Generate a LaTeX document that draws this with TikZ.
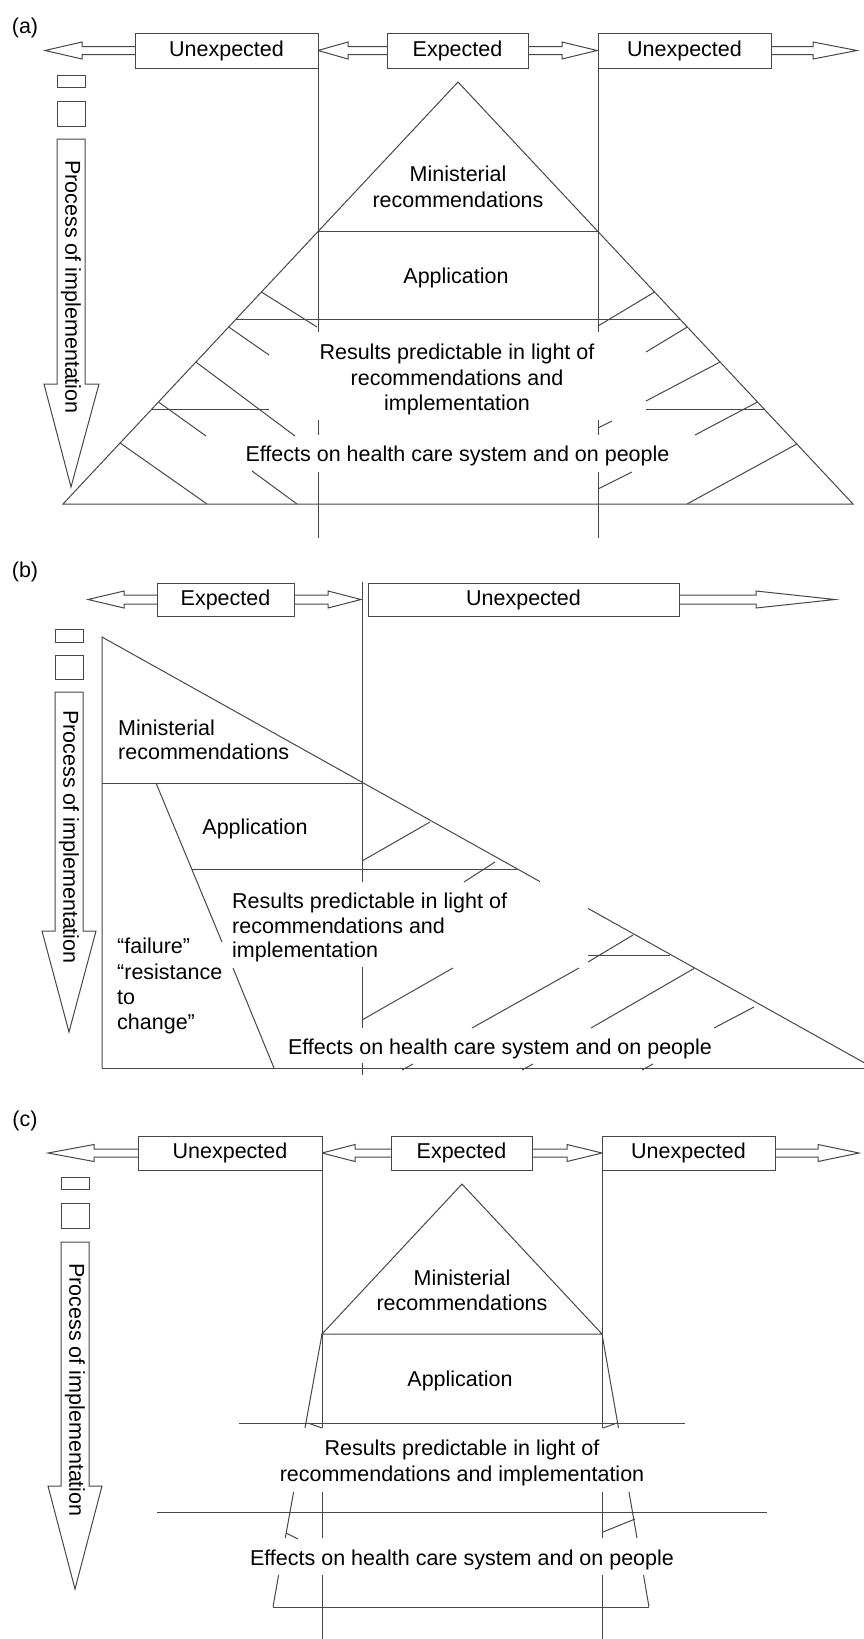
\documentclass[tikz,border=0pt]{standalone}
\usepackage{fontspec}
\setmainfont{Liberation Sans}
\newcommand\figfont{\fontsize{21.5}{25.5}\selectfont}
\begin{document}
\begin{tikzpicture}[x=1pt,y=-1pt,
  ln/.style={draw=black!72, line width=1pt},
  arr/.style={ln, line join=miter, fill=white},
  txt/.style={font=\figfont, inner sep=0pt, text=black},
  lbl/.style={txt, anchor=base},
  lblw/.style={txt, anchor=base west},
  tagbox/.style={ln, fill=white, inner sep=0pt, font=\figfont, text=black}]
\useasboundingbox (0,0) rectangle (864,1639);
\fill[white] (0,0) rectangle (864,1639);

%%%%%%%%%%%%%%%%%%%%%%%% (a)
\node[txt] (labA) at (25,28) {(a)};
\draw[arr] (135,46.5)--(82,46.5)--(82,42)--(45,50.5)--(82,59)--(82,54.5)--(135,54.5);
\draw[arr] (387,46.5)--(348,46.5)--(348,42)--(318,50.5)--(348,59)--(348,54.5)--(387,54.5);
\draw[arr] (528,46.5)--(562,46.5)--(562,42)--(597,50.5)--(562,59)--(562,54.5)--(528,54.5);
\draw[arr] (771,46.5)--(813,46.5)--(813,42)--(857,50.5)--(813,59)--(813,54.5)--(771,54.5);
\node[tagbox, minimum width=183pt, minimum height=35pt] (aU1) at (226.5,50.5) {Unexpected};
\node[tagbox, minimum width=141pt, minimum height=35pt] (aE) at (457.5,50.5) {Expected};
\node[tagbox, minimum width=173pt, minimum height=35pt] (aU2) at (684.5,50.5) {Unexpected};

\draw[ln] (57,75) rectangle (85,87);
\draw[ln] (57,101) rectangle (85,126);
\draw[arr] (57,139)--(85,139)--(85,384)--(99,384)--(71,487)--(44,384)--(57,384)--cycle;
\node[txt, rotate=-90] (aP) at (71,287) {Process of implementation};

\draw[ln] (318,68)--(318,332) (318,420)--(318,435) (318,472)--(318,538);
\draw[ln] (598,68)--(598,332) (598,420)--(598,435) (598,472)--(598,538);
\draw[ln] (63,504)--(458,82)--(853,504)--cycle;
\draw[ln] (318.5,231)--(597.5,231);
\draw[ln] (236.2,319)--(679.8,319);
% left hatches
\draw[ln] (261.4,292)--(317,327);
\draw[ln] (228.7,327)--(269,355);
\draw[ln] (195.9,362)--(295,436);
\draw[ln] (151.9,409)--(269,409);
\draw[ln] (158.5,402)--(206,436);
\draw[ln] (120.1,443)--(207,504);
\draw[ln] (252,471)--(297,504);
% right hatches
\draw[ln] (654.6,292)--(598,326);
\draw[ln] (687.3,327)--(646,352);
\draw[ln] (720,362)--(646,401);
\draw[ln] (646,409)--(764,409);
\draw[ln] (757.5,402)--(695,435);
\draw[ln] (796.8,444)--(687,504);
\draw[ln] (612,421)--(598,428);
\draw[ln] (632,472)--(598,489);

\node[lbl] (aM1) at (458,181.5) {Ministerial};
\node[lbl] (aM2) at (458,207.5) {recommendations};
\node[lbl] (aAp) at (456,283.5) {Application};
\node[lbl] (aR1) at (457,359.5) {Results predictable in light of};
\node[lbl] (aR2) at (457,385) {recommendations and};
\node[lbl] (aR3) at (457,410.5) {implementation};
\node[lbl] (aEf) at (457.5,461) {Effects on health care system and on people};

%%%%%%%%%%%%%%%%%%%%%%%% (b)
\node[txt] (labB) at (25,572) {(b)};
\draw[arr] (157,595)--(124,595)--(124,591)--(88,599.5)--(124,608)--(124,604)--(157,604);
\draw[arr] (294,595)--(328,595)--(328,591)--(361,599.5)--(328,608)--(328,604)--(294,604);
\draw[arr] (679,595)--(756,595)--(756,591)--(835,599.5)--(756,608)--(756,604)--(679,604);
\node[tagbox, minimum width=137pt, minimum height=33pt] (bE) at (225.5,599.5) {Expected};
\node[tagbox, minimum width=311pt, minimum height=33pt] (bU) at (523.5,599.5) {Unexpected};

\draw[ln] (55,629) rectangle (83,642);
\draw[ln] (55,655) rectangle (83,679);
\draw[arr] (55,692)--(83,692)--(83,931)--(96,931)--(69,1032)--(42,931)--(55,931)--cycle;
\node[txt, rotate=-90] (bP) at (69,837) {Process of implementation};

\draw[ln] (362,582)--(362,882) (362,967)--(362,1028) (362,1063)--(362,1075);
\draw[ln] (102,1068)--(102,637)--(540,881.6);
\draw[ln] (588,908.4)--(864,1062.6);
\draw[ln] (102,1068)--(864,1068);
\draw[ln] (102,783)--(362,783);
\draw[ln] (156,783)--(222,942);
\draw[ln] (233,968)--(274,1068);
\draw[ln] (192,869)--(517,869);
% hatches
\draw[ln] (362,861)--(430,822);
\draw[ln] (464,882)--(495,862);
\draw[ln] (362,1020)--(453,968);
\draw[ln] (588,962)--(633,935);
\draw[ln] (588,955)--(670,955);
\draw[ln] (472,1028)--(579,968);
\draw[ln] (591,1028)--(694,968.5);
\draw[ln] (714,1028)--(754,1007);
\draw[ln] (402,1070)--(413,1064);
\draw[ln] (522,1070)--(533,1064);
\draw[ln] (642,1070)--(653,1064);

\node[lblw] (bM1) at (118,735) {Ministerial};
\node[lblw] (bM2) at (118,759.5) {recommendations};
\node[lbl] (bAp) at (255,834.5) {Application};
\node[lblw] (bR1) at (232,908) {Results predictable in light of};
\node[lblw] (bR2) at (232,933) {recommendations and};
\node[lblw] (bR3) at (232,957.5) {implementation};
\node[lblw] (bF1) at (117,953.5) {“failure”};
\node[lblw] (bF2) at (117,979) {“resistance};
\node[lblw] (bF3) at (117,1004) {to};
\node[lblw] (bF4) at (117,1029.5) {change”};
\node[lbl] (bEf) at (500,1054.5) {Effects on health care system and on people};

%%%%%%%%%%%%%%%%%%%%%%%% (c)
\node[txt] (labC) at (25,1121) {(c)};
\draw[arr] (138,1149)--(94,1149)--(94,1144.5)--(48,1153)--(94,1161.5)--(94,1157)--(138,1157);
\draw[arr] (391,1149)--(355,1149)--(355,1144.5)--(322,1153)--(355,1161.5)--(355,1157)--(391,1157);
\draw[arr] (532,1149)--(567,1149)--(567,1144.5)--(602,1153)--(567,1161.5)--(567,1157)--(532,1157);
\draw[arr] (775,1149)--(818,1149)--(818,1144.5)--(859,1153)--(818,1161.5)--(818,1157)--(775,1157);
\node[tagbox, minimum width=184pt, minimum height=34pt] (cU1) at (230,1153) {Unexpected};
\node[tagbox, minimum width=141pt, minimum height=34pt] (cE) at (461.5,1153) {Expected};
\node[tagbox, minimum width=173pt, minimum height=34pt] (cU2) at (688.5,1153) {Unexpected};

\draw[ln] (61,1177) rectangle (89,1189);
\draw[ln] (61,1203) rectangle (89,1228);
\draw[arr] (61,1242)--(89,1242)--(89,1486)--(102,1486)--(75,1589)--(48,1486)--(61,1486)--cycle;
\node[txt, rotate=-90] (cP) at (75,1390) {Process of implementation};

\draw[ln] (322,1170)--(322,1428) (322,1492)--(322,1538) (322,1575)--(322,1639);
\draw[ln] (602,1170)--(602,1428) (602,1492)--(602,1538) (602,1575)--(602,1639);
\draw[ln] (322,1334)--(462,1184)--(602,1334)--cycle;
\draw[ln] (322,1334)--(305,1428);
\draw[ln] (293.6,1492)--(285.3,1538);
\draw[ln] (278.6,1575)--(273,1607);
\draw[ln] (602,1334)--(618.5,1428);
\draw[ln] (629,1492)--(637,1538);
\draw[ln] (643.5,1575)--(649,1607);
\draw[ln] (239,1423)--(685,1423);
\draw[ln] (157,1512)--(767,1512);
\draw[ln] (273,1607)--(649,1607);
\draw[ln] (308,1423)--(322,1428);
\draw[ln] (603,1428)--(617,1423);
\draw[ln] (286,1533)--(298,1539);
\draw[ln] (603,1532)--(635,1519);

\node[lbl] (cM1) at (462,1285) {Ministerial};
\node[lbl] (cM2) at (462,1310.5) {recommendations};
\node[lbl] (cAp) at (460,1386.5) {Application};
\node[lbl] (cR1) at (462,1455.5) {Results predictable in light of};
\node[lbl] (cR2) at (462,1481.5) {recommendations and implementation};
\node[lbl] (cEf) at (462,1565) {Effects on health care system and on people};
\end{tikzpicture}
\end{document}
